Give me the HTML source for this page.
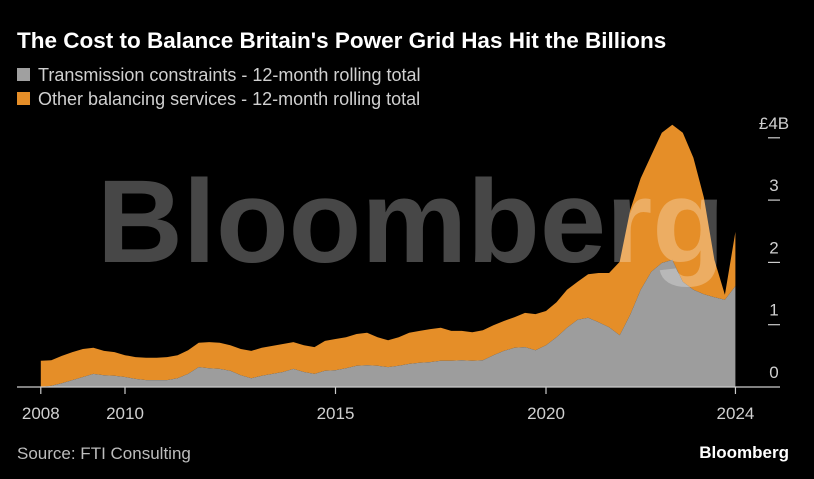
<!DOCTYPE html>
<html><head><meta charset="utf-8"><style>
body{margin:0;background:#000;width:814px;height:479px;overflow:hidden;font-family:"Liberation Sans",sans-serif}
svg{display:block}
</style></head><body>
<svg id="c" width="814" height="479">
<text x="17" y="48" fill="#fff" font-size="22.5" font-weight="bold">The Cost to Balance Britain's Power Grid Has Hit the Billions</text>
<rect x="17" y="68" width="13" height="13" fill="#a0a0a0"/>
<text x="38" y="81" fill="#d0d0d0" font-size="18">Transmission constraints - 12-month rolling total</text>
<rect x="17" y="92" width="13" height="13" fill="#e58e28"/>
<text x="38" y="105" fill="#d0d0d0" font-size="18">Other balancing services - 12-month rolling total</text>
<g id="plot"></g>
<text x="17" y="459" fill="#bdbdbd" font-size="17">Source: FTI Consulting</text>
<text x="789" y="458" fill="#fff" font-size="17" font-weight="bold" text-anchor="end">Bloomberg</text>
</svg>
<script>
const startYear = 2008, step = 0.25;
const transmission = [0,0.02,0.06,0.11,0.16,0.21,0.19,0.18,0.16,0.13,0.11,0.11,0.11,0.14,0.21,0.32,0.30,0.29,0.26,0.19,0.14,0.18,0.21,0.24,0.29,0.24,0.21,0.26,0.27,
0.30,0.34,0.35,0.34,0.32,0.34,0.37,0.39,0.40,0.42,0.42,0.43,0.42,0.43,0.51,0.58,0.63,0.64,0.59,0.67,0.80,0.95,1.08,1.11,1.04,0.96,0.83,1.16,1.56,1.85,1.99,2.04,1.69,1.56,1.49,1.44,1.40,1.62];
const other = [0.42,0.41,0.44,0.45,0.45,0.42,0.39,0.38,0.35,0.35,0.36,0.36,0.37,0.37,0.38,0.39,0.42,0.42,0.41,0.42,0.44,0.45,0.45,0.45,0.43,0.43,0.43,0.48,0.50,
0.50,0.51,0.52,0.46,0.43,0.46,0.50,0.51,0.53,0.53,0.48,0.47,0.46,0.48,0.48,0.48,0.49,0.55,0.58,0.55,0.56,0.61,0.61,0.70,0.79,0.87,1.18,1.68,1.79,1.87,2.09,2.17,2.39,2.12,1.55,0.60,0.08,0.87];
const xTicks = [2008,2010,2015,2020,2024.5];
const xTickLabels = ["2008","2010","2015","2020","2024"];
const yTicks = [0,1,2,3,4];
const yTickLabels = ["0","1","2","3","£4B"];

const NS="http://www.w3.org/2000/svg";
const plotG=document.getElementById('plot');
const xs=t=>40.8+(t-2008)*42.1;
const ys=v=>387-v*62.3;
function mk(tag,attrs){const e=document.createElementNS(NS,tag);for(const k in attrs)e.setAttribute(k,attrs[k]);plotG.appendChild(e);return e;}
const nPts=transmission.length;
const T=i=>startYear+i*step;
let topPath='',midPath='',midRev='';
for(let i=0;i<nPts;i++){
  topPath+=(i?'L':'M')+xs(T(i)).toFixed(1)+','+ys(transmission[i]+other[i]).toFixed(1);
  midPath+=(i?'L':'M')+xs(T(i)).toFixed(1)+','+ys(transmission[i]).toFixed(1);
}
for(let i=nPts-1;i>=0;i--){midRev+='L'+xs(T(i)).toFixed(1)+','+ys(transmission[i]).toFixed(1);}
const oa=mk('path',{d:topPath+midRev+'Z',fill:'#e58e28'});


const ga=mk('path',{d:midPath+'L'+xs(T(nPts-1)).toFixed(1)+','+ys(0)+'L'+xs(T(0)).toFixed(1)+','+ys(0)+'Z',fill:'#9d9d9d'});


const wm=mk('text',{x:97,y:262,'font-size':118,'font-weight':'bold',fill:'#fff','fill-opacity':0.28,textLength:628,lengthAdjust:'spacingAndGlyphs'});
wm.textContent='Bloomberg';


const ax=mk('line',{x1:17,x2:780,y1:387,y2:387,stroke:'#ccc','stroke-width':1.2});


xTicks.forEach((t,i)=>{
  const tk=mk('line',{x1:xs(t),x2:xs(t),y1:387,y2:394,stroke:'#ccc','stroke-width':1.2});
  
  
  const lb=mk('text',{x:xs(t),y:419,'text-anchor':'middle',fill:'#d0d0d0','font-size':17});
  lb.textContent=xTickLabels[i];
  
  
});
yTicks.forEach((v,i)=>{
  if(v>0){const tk=mk('line',{x1:768,x2:780,y1:ys(v),y2:ys(v),stroke:'#ccc','stroke-width':1.2});
  
  }
  const lb=mk('text',{x:774,y:ys(v)-9,'text-anchor':'middle',fill:'#d0d0d0','font-size':17});
  lb.textContent=yTickLabels[i];
  
  
});
</script>
</body></html>
